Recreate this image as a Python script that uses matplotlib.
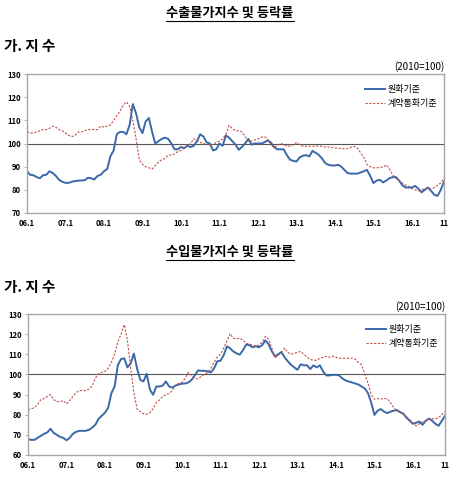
import matplotlib
matplotlib.use('Agg')
import matplotlib.pyplot as plt
from matplotlib.lines import Line2D

plt.rcParams['font.family'] = ['Noto Sans CJK KR', 'DejaVu Sans']

# monthly, 2006.1 - 2016.11
export_krw = [
    88, 86.5, 86.3, 85.5, 85, 86.3, 86.5, 88, 87.3, 86, 84.3, 83.5,
    83, 83, 83.5, 83.8, 84, 84, 84.2, 85.2, 85, 84.5, 86, 86.5,
    88, 89, 94.5, 97, 104, 105, 105, 104, 108, 117, 113, 107,
    104.5, 109.5, 111, 105, 100, 101, 102, 102.5, 102, 100, 97.5, 97.5,
    98.5, 98, 99, 98.5, 99, 101, 104, 103, 100.5, 100, 97, 97.5,
    100, 99, 103.5, 102.5, 101, 99.5, 97.3, 98.5, 100, 102, 99.5, 100,
    100, 100, 100.5, 101.3, 100.5, 98.5, 97.5, 97.5, 97.5, 95, 93, 92.5,
    92.2, 94, 94.7, 95, 94.4, 96.8, 96, 95, 93.5, 91.5, 90.8, 90.5,
    90.5, 90.8, 90, 88.5, 87.2, 87, 87, 87, 87.5, 88, 88.6, 86,
    82.9, 84, 84.3, 83.2, 84, 85, 85.5, 85.5, 84, 82, 81, 81,
    81, 81.7, 80.5, 78.9, 80, 81, 79.5, 77.8, 77.4, 80, 83.6,
]
export_contract = [
    105, 104.5, 104.5, 105, 105.5, 106, 106, 106.5, 107.5, 107, 106, 105.5,
    104.5, 103.5, 103, 103.5, 105, 105, 105.5, 106, 106, 106, 106, 107.5,
    107, 107.5, 108, 110, 112, 114, 116.5, 118, 116, 110, 102, 93,
    91, 90, 89.5, 89, 90.5, 92, 93, 93.5, 95, 95, 95.5, 96.5,
    97, 98, 99, 100, 102, 101.5, 100.5, 100, 99.5, 99.5, 99.5, 100.5,
    101, 102, 104, 107.8, 106.5, 105.5, 105.5, 105, 103, 101, 101, 101.5,
    102, 102.7, 103, 102, 99.5, 98.4, 99, 100.1, 99.5, 99, 98.8, 99.5,
    100.4, 99.5, 98.8, 98.8, 98.8, 98.8, 98.9, 99, 98.7, 98.5, 98.5, 98.3,
    98, 98, 97.8, 97.6, 97.8, 98.4, 98.7, 98, 96, 94, 91, 90,
    89.5, 89.5, 89.7, 89.8, 90.8, 89, 86.5, 85, 84, 83, 82, 81.5,
    80.5, 80, 79.5, 80, 80.5, 80.7, 80.5, 81, 82, 83, 85.3,
]
import_krw = [
    68, 67.5, 67.5, 68.5, 69.5, 70.5, 71.2, 73, 71, 70, 69, 68.5,
    67.3, 68.5, 70.5, 71.5, 72, 72, 72, 72.5, 73.6, 75, 78, 79.5,
    81, 83.5, 90.7, 94, 104.6, 107.6, 108, 103.5, 105.5, 110.3, 103, 97.3,
    96.5, 100.3, 92.5, 89.9, 94, 94, 94.5, 96.5, 94, 93.5, 94.5, 95,
    95.4, 95.5, 96, 97.3, 99.5, 102, 101.8, 101.8, 101.5, 101, 103, 106.5,
    106.8, 109.5, 113.9, 113, 111.4, 110.5, 109.8, 112, 114.8, 114.5, 113.5, 114,
    113.5, 114.5, 116.9, 115, 111.5, 109, 110, 111.1, 108.5, 106.5, 104.8, 103.5,
    102.3, 105, 104.5, 104.5, 102.7, 104.5, 103.5, 104.5, 101.5, 99.5, 99.5, 99.8,
    99.8, 99.5, 98, 97, 96.5, 96, 95.5, 95, 94, 93, 90.7, 86,
    79.9, 82, 82.8, 81.5, 80.8, 81.5, 82, 82.3, 81.3, 80.5, 78.5, 77,
    75.5, 76, 76.6, 75, 77, 78.1, 77, 75.5, 74.5, 77, 79.4,
]
import_contract = [
    82.4, 83, 83.5, 85, 87.5, 88, 89, 90, 87.5, 86.5, 86.5, 87,
    85.4, 87, 89, 91, 92, 92, 92, 92.7, 94.4, 98.2, 100.3, 101,
    101.5, 103, 106, 110, 116, 120, 124.7, 117, 103, 91, 83, 81.5,
    80.5, 80.2, 81, 83, 86, 87.4, 89, 90, 90.5, 92, 94.5, 95.5,
    96, 98, 101, 99.5, 98.5, 97.7, 99, 100, 101, 103, 106, 108.5,
    110, 113, 116.5, 120.2, 118, 117.6, 118, 117, 115.5, 115.1, 114.5, 114,
    114.5, 116, 118.9, 117.5, 113, 108.1, 109.5, 111, 113.1, 111, 110, 110.5,
    111, 111.4, 110, 108.5, 107.5, 107, 107, 108, 108.5, 109, 108.5, 109,
    108.5, 108, 108, 108, 108, 108.1, 107.5, 106, 104.8, 100, 95.7, 90,
    87.7, 88, 87.8, 88, 88, 86, 83.5, 82, 81, 80.5, 79, 77.5,
    76, 74.5, 75.5, 76.5, 77, 77.8, 78, 78, 78.5, 80, 81.6,
]
xtick_pos = [0, 12, 24, 36, 48, 60, 72, 84, 96, 108, 120, 130]
xtick_labels = ['06.1', '07.1', '08.1', '09.1', '10.1', '11.1', '12.1',
                '13.1', '14.1', '15.1', '16.1', '11']
series_names = ['원화기준', '계약통화기준']

BLUE = '#3a68a8'
RED = '#c0504d'

fig = plt.figure(figsize=(4.63, 4.79), dpi=100)


def underlined_title(text, y):
    t = fig.text(0.497, y, text, ha='center', va='center',
                 fontsize=9.5, fontweight='bold')
    fig.canvas.draw()
    bb = t.get_window_extent().transformed(fig.transFigure.inverted())
    fig.add_artist(Line2D([bb.x0, bb.x1], [bb.y0 - 0.002, bb.y0 - 0.002],
                          transform=fig.transFigure, color='black', lw=0.8))


def draw_panel(rect, krw, contract, ylo):
    ax = fig.add_axes(rect)
    months = list(range(len(krw)))
    ax.plot(months, krw, color=BLUE, lw=1.4, label=series_names[0])
    ax.plot(months, contract, color=RED, lw=0.8, ls=(0, (2, 1.4)),
            label=series_names[1])
    ax.axhline(100, color='#555555', lw=0.8, zorder=0)
    ax.set_xlim(0, 130)
    ax.set_ylim(ylo, 130)
    ax.set_yticks(range(ylo, 131, 10))
    ax.set_xticks(xtick_pos)
    ax.set_xticklabels(xtick_labels)
    for s in ax.spines.values():
        s.set_color('#a6a6a6')
        s.set_linewidth(1.0)
    ax.tick_params(axis='y', length=2.5, width=0.6, color='#a6a6a6',
                   labelsize=5.5, pad=2)
    ax.tick_params(axis='x', length=0, labelsize=5.5, pad=4)
    for lab in ax.get_xticklabels() + ax.get_yticklabels():
        lab.set_fontweight('bold')
    ax.legend(loc='upper right', frameon=False, fontsize=6.5,
              handlelength=2.2, handletextpad=0.3, labelspacing=0.5,
              borderaxespad=0.4, bbox_to_anchor=(1.0, 0.97))
    ax.text(1.0, 1.015, '(2010=100)', transform=ax.transAxes,
            ha='right', va='bottom', fontsize=7)
    return ax


underlined_title('수출물가지수 및 등락률', 1 - 13 / 479)
fig.text(0.008, 1 - 46 / 479, '가. 지 수', ha='left', va='center',
         fontsize=10.5, fontweight='bold')
draw_panel([27 / 463, 1 - 213 / 479, 417 / 463, 139 / 479],
           export_krw, export_contract, 70)

underlined_title('수입물가지수 및 등락률', 1 - 252 / 479)
fig.text(0.008, 1 - 287 / 479, '가. 지 수', ha='left', va='center',
         fontsize=10.5, fontweight='bold')
draw_panel([28 / 463, 1 - 455 / 479, 417 / 463, 141 / 479],
           import_krw, import_contract, 60)

fig.savefig('out.png', dpi=100)
